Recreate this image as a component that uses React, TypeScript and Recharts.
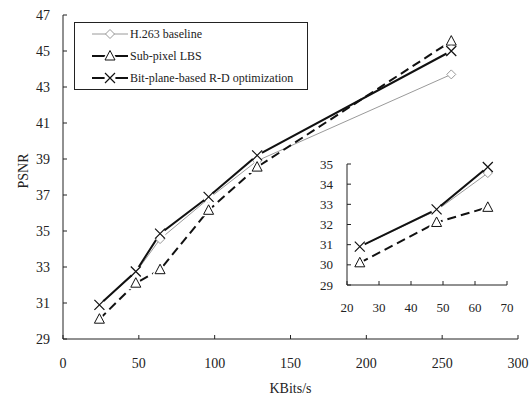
import { LineChart, Line, XAxis, YAxis, Legend } from "recharts";

// bit rates (KBits/s) and PSNR per method
const bitrates = [24, 48, 64, 96, 128, 256];
const h263Baseline = [30.9, 32.7, 34.55, 36.8, 38.9, 43.7];
const subPixelLbs = [30.1, 32.1, 32.85, 36.15, 38.55, 45.55];
const bitPlaneRd = [30.9, 32.75, 34.85, 36.9, 39.2, 45.0];

const mainXTicks = [0, 50, 100, 150, 200, 250, 300];
const mainYTicks = [29, 31, 33, 35, 37, 39, 41, 43, 45, 47];
const insetXTicks = [20, 30, 40, 50, 60, 70];
const insetYTicks = [29, 30, 31, 32, 33, 34, 35];
const insetPoints = 3; // zoomed view shows the three low rates

const data = bitrates.map((rate, i) => ({
  rate,
  h263: h263Baseline[i],
  lbs: subPixelLbs[i],
  rd: bitPlaneRd[i],
}));
const insetData = data.slice(0, insetPoints);

const FONT = "Liberation Serif, 'DejaVu Serif', Tinos, serif";
const INK = "#222";

const series = [
  { key: "h263", name: "H.263 baseline", color: "#9a9a9a", width: 1, dash: undefined, marker: "diamond" },
  { key: "lbs", name: "Sub-pixel LBS", color: "#111", width: 2, dash: "9 5", marker: "triangle" },
  { key: "rd", name: "Bit-plane-based R-D optimization", color: "#111", width: 2, dash: undefined, marker: "cross" },
];

function Marker({ cx, cy, kind, color }: any) {
  if (cx == null || cy == null) return null;
  if (kind === "diamond") {
    const r = 4.5;
    return (
      <polygon
        points={`${cx},${cy - r} ${cx + r},${cy} ${cx},${cy + r} ${cx - r},${cy}`}
        fill="#fff"
        stroke={color}
        strokeWidth={1}
      />
    );
  }
  if (kind === "triangle") {
    const pts = `${cx},${cy - 5.5} ${cx + 5},${cy + 4} ${cx - 5},${cy + 4}`;
    return (
      <g>
        <polygon points={pts} fill="#fff" stroke="#fff" strokeWidth={4} />
        <polygon points={pts} fill="#fff" stroke={color} strokeWidth={1} />
      </g>
    );
  }
  const r = 5;
  return (
    <g>
      <circle cx={cx} cy={cy} r={5.5} fill="#fff" />
      <path
        d={`M${cx - r},${cy - r}L${cx + r},${cy + r}M${cx - r},${cy + r}L${cx + r},${cy - r}`}
        stroke={color}
        strokeWidth={1.2}
        fill="none"
      />
    </g>
  );
}

const LegendBox = () => (
  <div
    style={{
      border: `1px solid ${INK}`,
      background: "#fff",
      paddingLeft: 17,
      boxSizing: "border-box",
      width: 234,
      fontFamily: FONT,
      fontSize: 12,
      color: INK,
    }}
  >
    {series.map((s) => (
      <div key={s.key} style={{ display: "flex", alignItems: "center", height: 22 }}>
        <svg width={36} height={14} style={{ marginRight: 2 }}>
          <line x1={0} y1={7} x2={36} y2={7} stroke={s.color} strokeWidth={s.width} />
          <Marker cx={18} cy={7} kind={s.marker} color={s.color} />
        </svg>
        <span>{s.name}</span>
      </div>
    ))}
  </div>
);

const PsnrLabel = (props: any) => {
  const { x, y, width, height } = props.viewBox;
  const cx = x + width / 2 - 8;
  const cy = y + height / 2 - 6;
  return (
    <text x={cx} y={cy} transform={`rotate(-90 ${cx} ${cy})`} textAnchor="middle" dominantBaseline="central" fill={INK} fontSize={14} fontFamily={FONT}>
      PSNR
    </text>
  );
};

function renderLines() {
  return series.map((s) => (
    <Line
      key={s.key}
      dataKey={s.key}
      name={s.name}
      stroke={s.color}
      strokeWidth={s.width}
      strokeDasharray={s.dash}
      isAnimationActive={false}
      dot={(p: any) => <Marker key={`${s.key}-${p.index}`} cx={p.cx} cy={p.cy} kind={s.marker} color={s.color} />}
      activeDot={false}
    />
  ));
}

export default function App() {
  const tick = { fill: INK, fontSize: 14, fontFamily: FONT };
  return (
    <div style={{ position: "absolute", left: 0, top: 0, width: 532, height: 399, background: "#fff", fontFamily: FONT }}>
      <LineChart width={532} height={399} data={data} margin={{ top: 15, right: 14, bottom: 0, left: 0 }} style={{ fontFamily: FONT }}>
        <XAxis
          dataKey="rate"
          type="number"
          domain={[0, 300]}
          ticks={mainXTicks}
          interval={0}
          height={60}
          stroke={INK}
          tickSize={-4}
          tickMargin={23}
          tick={tick}
          label={{ value: "KBits/s", position: "insideBottom", offset: 6, fill: INK, fontSize: 14, fontFamily: FONT }}
        />
        <YAxis
          type="number"
          domain={[29, 47]}
          ticks={mainYTicks}
          interval={0}
          width={63}
          stroke={INK}
          tickSize={-4}
          tickMargin={17}
          tick={tick}
          label={<PsnrLabel />}
        />
        <Legend
          layout="horizontal"
          verticalAlign="middle"
          align="center"
          wrapperStyle={{ left: 74, top: 22, width: 234 }}
          content={<LegendBox />}
        />
        {renderLines()}
      </LineChart>

      <div style={{ position: "absolute", left: 300, top: 150 }}>
        <LineChart width={220} height={170} data={insetData} margin={{ top: 14, right: 13, bottom: 0, left: 0 }} style={{ fontFamily: FONT }}>
          <XAxis
            dataKey="rate"
            type="number"
            domain={[20, 70]}
            ticks={insetXTicks}
            interval={0}
            height={35}
            stroke={INK}
            tickSize={-4}
            tickMargin={22}
            tick={{ ...tick, fontSize: 13 }}
          />
          <YAxis
            type="number"
            domain={[29, 35]}
            ticks={insetYTicks}
            interval={0}
            width={47}
            stroke={INK}
            tickSize={-4}
            tickMargin={18}
            tick={{ ...tick, fontSize: 13 }}
          />
          {renderLines()}
        </LineChart>
      </div>
    </div>
  );
}
